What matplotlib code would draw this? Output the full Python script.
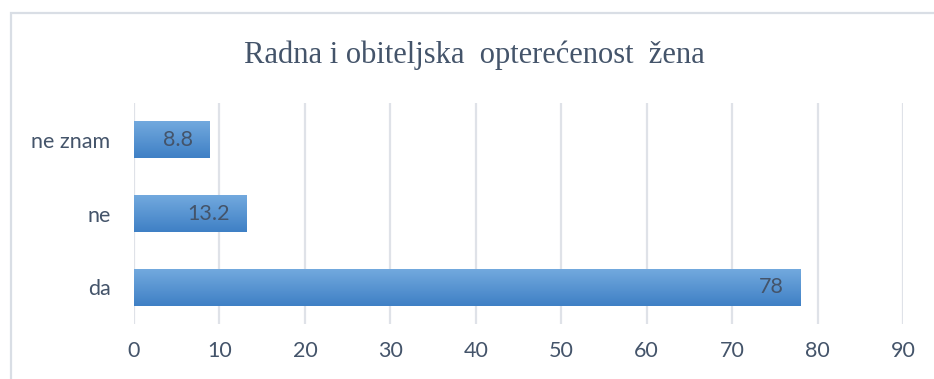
import matplotlib.pyplot as plt
import numpy as np
from matplotlib.patches import Rectangle

# survey answers and their shares (%)
categories = ["da", "ne", "ne znam"]
values = [78, 13.2, 8.8]
value_labels = ["78", "13.2", "8.8"]
x_ticks = [0, 10, 20, 30, 40, 50, 60, 70, 80, 90]
title = "Radna i obiteljska  opterećenost  žena"

text_color = "#44546a"
grid_color = "#dfe2e8"

fig = plt.figure(figsize=(9.34, 3.79), dpi=100)
ax = fig.add_axes([134 / 934, 1 - 324 / 379, (903 - 134) / 934, (324 - 103) / 379])

# chart border (runs off the right and bottom edges)
fig.add_artist(Rectangle((11 / 934, -0.1), 1.2, 1 - 13 / 379 + 0.1,
                         transform=fig.transFigure, fill=False,
                         edgecolor="#d9dee5", linewidth=1.6))

ypos = np.arange(len(categories))
bars = ax.barh(ypos, values, height=0.5, color="none", edgecolor="none", zorder=3)

# vertical gradient inside each bar
grad = np.linspace(0, 1, 64).reshape(-1, 1)
cmap = plt.matplotlib.colors.LinearSegmentedColormap.from_list("bar", ["#3f80c5", "#72a9de"])
for b in bars:
    x0, y0 = b.get_x(), b.get_y()
    w, h = b.get_width(), b.get_height()
    im = ax.imshow(grad, cmap=cmap, aspect="auto", origin="lower",
                   extent=(x0, x0 + w, y0, y0 + h), zorder=3)
    im.set_clip_path(b)

for i, (v, lab) in enumerate(zip(values, value_labels)):
    ax.annotate(lab, xy=(v, i), xytext=(-12, 0), textcoords="offset points",
                ha="right", va="center", fontsize=15.5, color=text_color,
                family="Lato", zorder=4)

ax.set_xlim(0, 90)
ax.set_ylim(-0.5, 2.5)
ax.set_xticks(x_ticks)
ax.set_yticks(ypos)
ax.set_yticklabels(categories)
ax.grid(axis="x", color=grid_color, linewidth=1.6, zorder=0)
ax.set_axisbelow(True)
for s in ax.spines.values():
    s.set_visible(False)
ax.tick_params(length=0, labelcolor=text_color, labelsize=15.5)
ax.tick_params(axis="y", pad=17)
ax.tick_params(axis="x", pad=12)
for t in ax.get_xticklabels() + ax.get_yticklabels():
    t.set_family("Lato")

fig.text(474 / 934, 1 - 55 / 379, title, ha="center", va="center",
         fontsize=22, color=text_color, family="Liberation Serif")

fig.savefig("out.png", dpi=100)
